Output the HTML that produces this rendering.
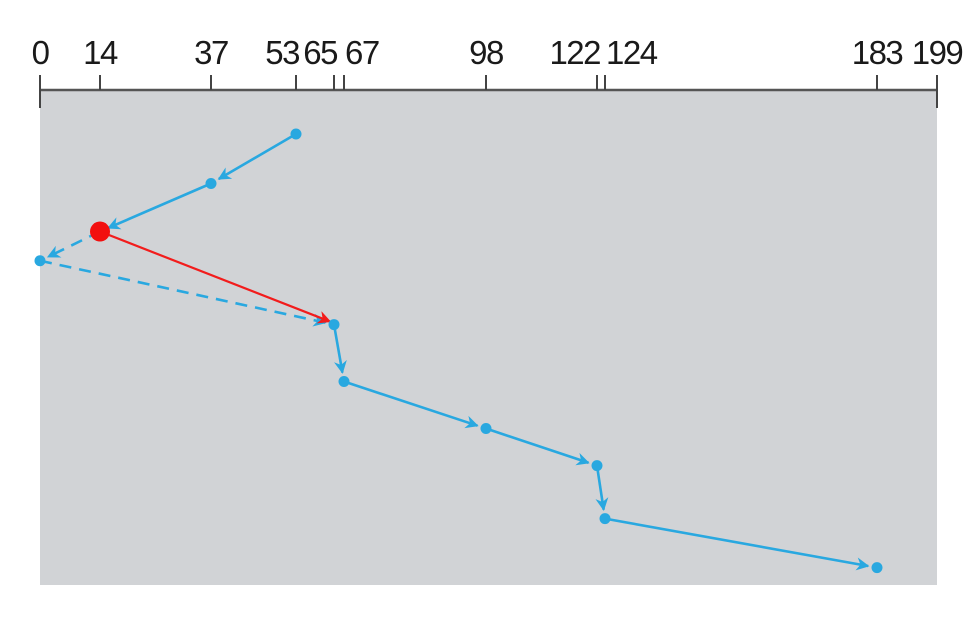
<!DOCTYPE html>
<html><head><meta charset="utf-8"><style>
body{margin:0;background:#fff;width:975px;height:618px;overflow:hidden}
svg{display:block}
text{font-family:"Liberation Sans",sans-serif;font-size:33px;fill:#1a1a1a;letter-spacing:-1.5px}
</style></head><body>
<svg id="chart" width="975" height="618" viewBox="0 0 975 618">
<defs>
<marker id="ab" viewBox="0 0 10 10" refX="9" refY="5" markerWidth="5" markerHeight="5" orient="auto"><path d="M0,0L10,5L0,10L3,5z" fill="#29a8e0"/></marker>
<marker id="ar" viewBox="0 0 10 10" refX="9" refY="5" markerWidth="6" markerHeight="6" orient="auto"><path d="M0,0L10,5L0,10L3,5z" fill="#f21c1c"/></marker>
</defs>
<rect x="40" y="90" width="897" height="495" fill="#d1d3d6"/>
<g id="axis"></g><g id="marks"></g>
</svg>
<script>
const ticks=[0,14,37,53,65,67,98,122,124,183,199];
const tickAnchors=['middle','middle','middle','end','end','start','middle','end','start','middle','middle'];
const seq=[53,37,14,0,65,67,98,122,124,183];
const times=[0,1,1.97,2.56,3.85,5.0,5.95,6.7,7.77,8.76];
const dashedSegs=[2,3];
const current=14, redTarget=65;
// piecewise axis scale (the figure's axis is not drawn to linear scale)
const scaleDomain=[0,14,37,53,65,67,98,122,124,183,199];
const scaleRange=[40,100,211,296,334,344,486,597,605,877,937];
function xs(v){
 for(let i=0;i<scaleDomain.length-1;i++){
  if(v<=scaleDomain[i+1]||i===scaleDomain.length-2){
   const a=scaleDomain[i],b=scaleDomain[i+1];
   return scaleRange[i]+(v-a)/(b-a)*(scaleRange[i+1]-scaleRange[i]);
  }
 }
}
function ys(t){return 134+t*49.5;}
const NS="http://www.w3.org/2000/svg";
function mk(tag,a,p){const e=document.createElementNS(NS,tag);for(const k in a)e.setAttribute(k,a[k]);p.appendChild(e);return e;}
const ax=document.getElementById('axis'),mg=document.getElementById('marks');
const line=mk('line',{x1:40,x2:937,y1:90,y2:90,stroke:'#555','stroke-width':2.5},ax);


ticks.forEach((v,i)=>{
 const end=(i===0||i===ticks.length-1);
 const t=mk('line',{x1:xs(v),x2:xs(v),y1:75,y2:end?108:90,stroke:'#444','stroke-width':2},ax);
 
 
 const an=tickAnchors[i];
 const dx=an==='end'?3:(an==='start'?1:0);
 const l=mk('text',{x:xs(v)+dx,y:64,'text-anchor':an},ax);
 l.textContent=v;
 
 
});
for(let i=0;i<seq.length-1;i++){
 const x1=xs(seq[i]),y1=ys(times[i]),x2=xs(seq[i+1]),y2=ys(times[i+1]);
 const d=Math.hypot(x2-x1,y2-y1),sh=9/d;
 const s=mk('line',{x1:x1,y1:y1,x2:x2-(x2-x1)*sh,y2:y2-(y2-y1)*sh,stroke:'#29a8e0','stroke-width':2.6,'marker-end':'url(#ab)'},mg);
 if(dashedSegs.includes(i))s.setAttribute('stroke-dasharray','12 8');
 
 
}
const ci=seq.indexOf(current),ri=seq.indexOf(redTarget);
const r=mk('line',{x1:xs(current),y1:ys(times[ci]),x2:xs(redTarget)-4,y2:ys(times[ri])-3,stroke:'#f21c1c','stroke-width':2.2,'marker-end':'url(#ar)'},mg);


seq.forEach((v,i)=>{
 const isCur=v===current;
 const c=mk('circle',{cx:xs(v),cy:ys(times[i]),r:isCur?10:5.5,fill:isCur?'#f20f0f':'#29a8e0'},mg);
 
 
});
</script>
</body></html>
